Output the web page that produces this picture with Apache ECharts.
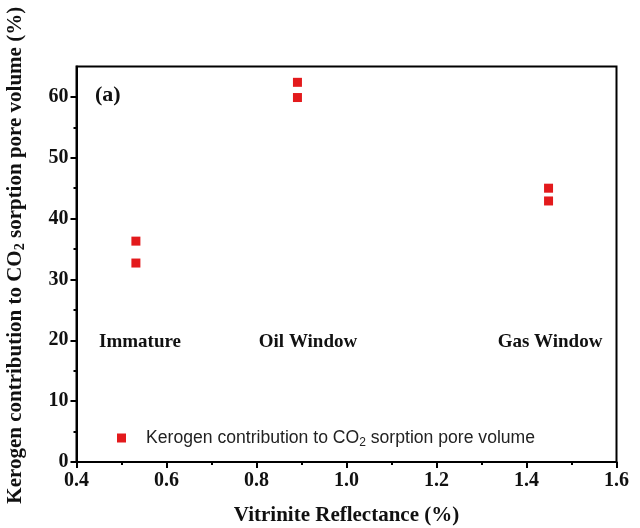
<!DOCTYPE html>
<html><head><meta charset="utf-8">
<script src="https://cdn.jsdelivr.net/npm/echarts@6/dist/echarts.min.js"></script>
<style>html,body{margin:0;padding:0;background:#fff}#c{width:640px;height:528px}</style>
</head><body><div id="c"></div>
<script>
const seriesName = 'Kerogen contribution to CO2 sorption pore volume';
const vitriniteReflectance = [0.532, 0.532, 0.891, 0.891, 1.449, 1.449];
const kerogenContribution = [36.3, 32.7, 62.4, 59.9, 45.0, 42.9];
const stageLabels = ['Immature', 'Oil Window', 'Gas Window'];
const xTicks = [0.4, 0.6, 0.8, 1.0, 1.2, 1.4, 1.6];
const yTicks = [0, 10, 20, 30, 40, 50, 60];

const serif = '"Liberation Serif","Times New Roman",serif';
const sans = '"Liberation Sans",Arial,sans-serif';
const chart = echarts.init(document.getElementById('c'));
const data = vitriniteReflectance.map((x, i) => [x, kerogenContribution[i]]);

chart.setOption({
  animation: false,
  backgroundColor: '#fff',
  grid: {left: 76.5, right: 23.5, top: 66.5, bottom: 66, outerBoundsMode: 'none', containLabel: false,
    show: true, borderColor: '#000', borderWidth: 2, backgroundColor: 'transparent'},
  xAxis: {
    type: 'value', min: 0.4, max: 1.6, interval: 0.2,
    name: 'Vitrinite Reflectance (%)', nameLocation: 'middle', nameGap: 43,
    nameTextStyle: {fontFamily: serif, fontWeight: 'bold', fontSize: 21, color: '#111'},
    axisLine: {show: true, lineStyle: {color: '#000', width: 2}},
    axisTick: {show: true, inside: false, length: 6, lineStyle: {width: 2, color: '#000'}},
    minorTick: {show: true, splitNumber: 2, length: 3, lineStyle: {width: 2, color: '#000'}},
    splitLine: {show: false},
    axisLabel: {fontFamily: serif, fontWeight: 'bold', fontSize: 20, color: '#111', margin: 9,
      formatter: v => v.toFixed(1)}
  },
  yAxis: {
    type: 'value', min: 0, max: 65, interval: 10,
    name: '{t|Kerogen contribution to CO}{s|2}{t| sorption pore volume (%)}',
    nameLocation: 'middle', nameGap: 49,
    nameTextStyle: {fontFamily: serif, fontWeight: 'bold', fontSize: 21, color: '#111', padding: [0, 0, 0, 18],
      rich: {t: {fontFamily: serif, fontWeight: 'bold', fontSize: 21, color: '#111'},
             s: {fontFamily: serif, fontWeight: 'bold', fontSize: 14, color: '#111', verticalAlign: 'bottom', padding: [9, 0, 0, 0]}}},
    axisLine: {show: true, lineStyle: {color: '#000', width: 2}},
    axisTick: {show: true, inside: false, length: 6, lineStyle: {width: 2, color: '#000'}, customValues: yTicks},
    minorTick: {show: true, splitNumber: 2, length: 3, lineStyle: {width: 2, color: '#000'}},
    splitLine: {show: false},
    axisLabel: {fontFamily: serif, fontWeight: 'bold', fontSize: 20, color: '#111', margin: 8, customValues: yTicks}
  },
  legend: {
    left: 112, top: 424, itemWidth: 9, itemHeight: 9, itemGap: 10,
    icon: 'rect',
    formatter: () => '{t|Kerogen contribution to CO}{s|2}{t| sorption pore volume}',
    textStyle: {padding: [0, 0, 0, 15], rich: {
      t: {fontFamily: sans, fontSize: 17.6, color: '#222'},
      s: {fontFamily: sans, fontSize: 12, color: '#222', verticalAlign: 'bottom', padding: [9, 0, 0, 0]}}}
  },
  graphic: [
    {type: 'text', left: 95, top: 84, style: {text: '(a)', font: 'bold 22px ' + serif, fill: '#111'}},
    {type: 'text', x: 140, y: 342, style: {text: stageLabels[0], font: 'bold 19px ' + serif, fill: '#111', align: 'center', verticalAlign: 'middle'}},
    {type: 'text', x: 308, y: 342, style: {text: stageLabels[1], font: 'bold 19px ' + serif, fill: '#111', align: 'center', verticalAlign: 'middle'}},
    {type: 'text', x: 550, y: 342, style: {text: stageLabels[2], font: 'bold 19px ' + serif, fill: '#111', align: 'center', verticalAlign: 'middle'}}
  ],
  series: [{
    name: seriesName, type: 'scatter', symbol: 'rect', symbolSize: 9,
    itemStyle: {color: '#E31A1C', opacity: 1}, data: data
  }]
});
</script></body></html>
